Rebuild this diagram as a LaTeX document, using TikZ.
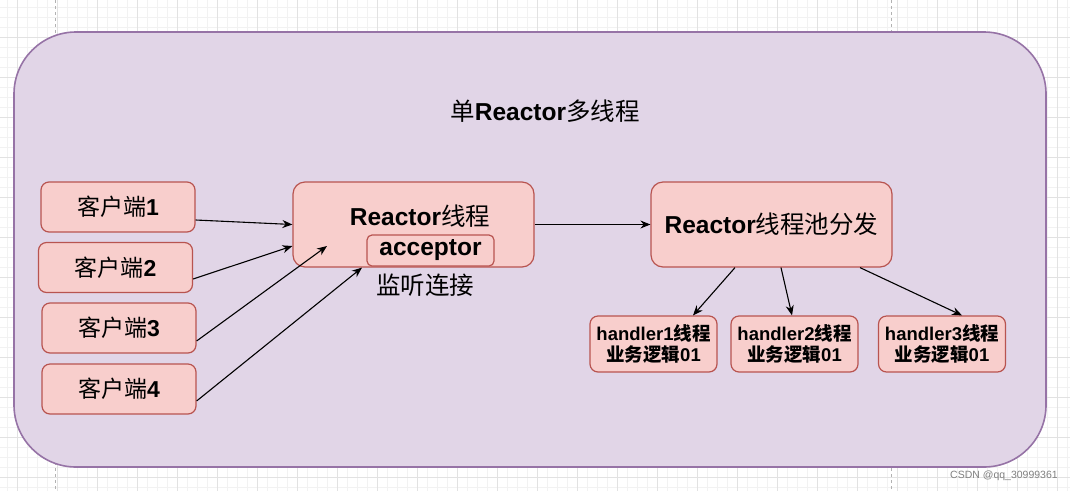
\documentclass[tikz,border=0pt]{standalone}
\usepackage{fontspec}
\setmainfont{Liberation Sans}
\newfontfamily\cjk{Noto Sans CJK SC}
\usetikzlibrary{arrows.meta}
\newcommand{\zh}[1]{{\cjk\mdseries #1}}
\newcommand{\zhb}[1]{{\cjk #1}}
\definecolor{gridminor}{HTML}{F2F2F2}
\definecolor{gridmajor}{HTML}{E2E2E2}
\definecolor{purplefill}{HTML}{E1D5E7}
\definecolor{purpleline}{HTML}{9673A6}
\definecolor{pinkfill}{HTML}{F8CECC}
\definecolor{pinkline}{HTML}{B85450}

\begin{document}
\begin{tikzpicture}[x=1pt, y=-1pt,
    pink_box/.style={draw=pinkline, fill=pinkfill, line width=1.2pt, rounded corners=8pt, inner sep=0pt},
    client_node/.style={pink_box, minimum width=154pt, minimum height=50pt, font=\fontsize{23}{27}\selectfont},
    handler_node/.style={pink_box, minimum width=127pt, minimum height=56pt, align=center, font=\fontsize{18.5}{21}\selectfont\bfseries},
    big_text/.style={font=\fontsize{24.5}{28}\selectfont\bfseries},
    arr/.style={-{Stealth[length=10pt,width=8pt]}, line width=1.1pt, black}]
    \useasboundingbox (0,0) rectangle (1070,491);
    \fill[white] (0,0) rectangle (1070,491);
    % grid
    \foreach \x in {7,17,...,1067} \draw[gridminor, line width=0.8pt] (\x,0) -- (\x,491);
    \foreach \y in {7,17,...,487} \draw[gridminor, line width=0.8pt] (0,\y) -- (1070,\y);
    \foreach \x in {17,57,...,1057} \draw[gridmajor, line width=1pt] (\x,0) -- (\x,491);
    \foreach \y in {37,77,...,477} \draw[gridmajor, line width=1pt] (0,\y) -- (1070,\y);
    \draw[gray!60, dashed, line width=1pt] (55,0) -- (55,491);
    \draw[gray!60, dashed, line width=1pt] (891,0) -- (891,491);

    \draw[draw=purpleline, fill=purplefill, line width=1.6pt, rounded corners=62pt] (14,32) rectangle (1046,467);
    \node[big_text] (title) at (545,111) {\zh{单}Reactor\zh{多线程}};

    \node[client_node] (c1) at (118,207) {\zh{客户端}\textbf{1}};
    \node[client_node] (c2) at (115.5,267.5) {\zh{客户端}\textbf{2}};
    \node[client_node] (c3) at (119,328) {\zh{客户端}\textbf{3}};
    \node[client_node] (c4) at (119,389) {\zh{客户端}\textbf{4}};

    \node[pink_box, rounded corners=12pt, minimum width=241pt, minimum height=85pt] (reactor) at (413.5,224.5) {};
    \node[big_text] (reactor_txt) at (420,216) {Reactor\zh{线程}};
    \node[pink_box, rounded corners=5pt, minimum width=127pt, minimum height=31pt, big_text] (acceptor) at (430.5,250.5) {acceptor};
    \node[font=\fontsize{24.5}{28}\selectfont] (listen) at (425,285) {\zh{监听连接}};

    \node[pink_box, rounded corners=12pt, minimum width=241pt, minimum height=85pt, big_text] (pool) at (771.5,224.5) {Reactor\zh{线程池分发}};

    \node[handler_node] (h1) at (653.5,344) {handler1\zhb{线程}\\\zhb{业务逻辑}01};
    \node[handler_node] (h2) at (794.5,344) {handler2\zhb{线程}\\\zhb{业务逻辑}01};
    \node[handler_node] (h3) at (942,344) {handler3\zhb{线程}\\\zhb{业务逻辑}01};

    \coordinate (in3) at (327,246);
    \draw[arr] ([yshift=-13pt]c1.east) -- (reactor.west);
    \draw[arr] ([yshift=-11.5pt]c2.east) -- ([yshift=-21.5pt]reactor.west);
    \draw[arr] ([yshift=-13pt]c3.east) -- (in3);
    \draw[arr] ([yshift=-12pt]c4.east) -- ([xshift=-51.5pt]reactor.south);
    \draw[arr] (reactor.east) -- (pool.west);
    \draw[arr] ([xshift=-36.5pt]pool.south) -- ([xshift=39.5pt]h1.north);
    \draw[arr] ([xshift=9.5pt]pool.south) -- ([xshift=-2.5pt]h2.north);
    \draw[arr] ([xshift=88.5pt]pool.south) -- ([xshift=20pt]h3.north);

    \node[gray, font=\fontsize{10.5}{12}\selectfont] (mark) at (1004,476) {CSDN @qq\_30999361};
\end{tikzpicture}
\end{document}
